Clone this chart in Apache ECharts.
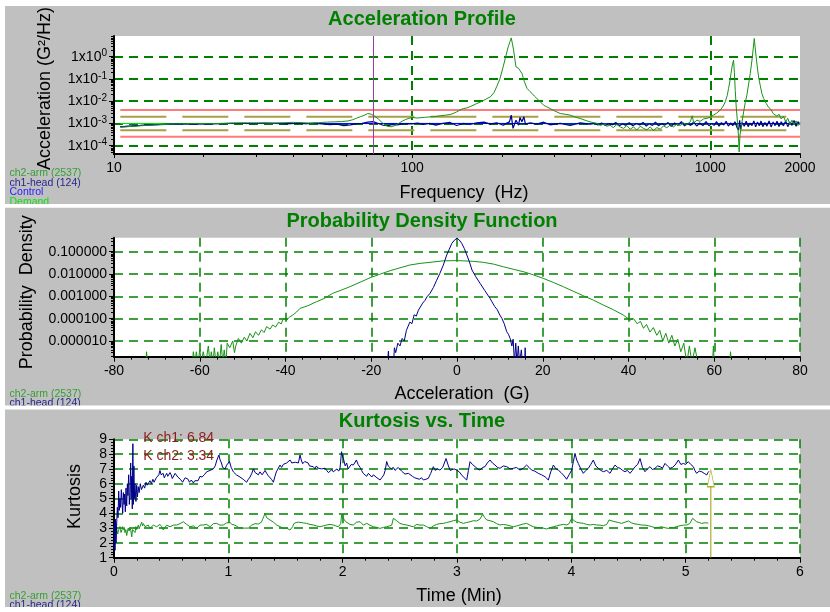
<!DOCTYPE html>
<html><head><meta charset="utf-8">
<script src="https://cdn.jsdelivr.net/npm/echarts@6/dist/echarts.min.js"></script>
<style>html,body{margin:0;padding:0;background:#fff}#c{width:830px;height:612px}</style>
</head><body><div id="c"></div>
<script>
// ================= DATA =================
const titles = ['Acceleration Profile', 'Probability Density Function', 'Kurtosis vs. Time'];
const psdLegendNames = ['ch2-arm (2537)', 'ch1-head (124)', 'Control', 'Demand'];
const pdfLegendNames = ['ch2-arm (2537)', 'ch1-head (124)'];
const kurtLegendNames = ['ch2-arm (2537)', 'ch1-head (124)'];
const kurtReadouts = ['K ch1: 6.84', 'K ch2: 3.34'];

// Acceleration profile (frequency Hz, G^2/Hz)
const psdXRange = [10, 2000];
const psdYRange = [4.24e-5, 8.51];
const psdCursorFreq = 74;
const psdDemand = [[10.5, 1e-3], [2000, 1e-3]];
const psdAbortHi = [[10.5, 4.0e-3], [2000, 4.0e-3]];
const psdAbortLo = [[10.5, 2.5e-4], [2000, 2.5e-4]];
const psdAlarmHi = [[10.5, 2.0e-3], [2000, 2.0e-3]];
const psdAlarmLo = [[10.5, 5.0e-4], [2000, 5.0e-4]];
const psdControl = [[10.5,7.2e-4],[13,8.6e-4],[16,9.4e-4],[25,1.0e-3],[50,9.8e-4],[100,1.0e-3],[200,1.0e-3],[500,9.6e-4],[1000,9.8e-4],[2000,1.0e-3]];
const psdCh2 = [
[10.5,6.8e-4],[11,7.1e-4],[12,7.7e-4],[13,8.3e-4],[14,8.8e-4],[15.5,9.3e-4],[17,9.7e-4],[19,1.0e-3],[21,9.8e-4],[23,1.01e-3],[25,1.04e-3],[28,1.07e-3],[31,1.05e-3],[34,1.03e-3],[37,1.08e-3],[40,1.12e-3],[43,1.08e-3],[46,1.02e-3],[49,1.1e-3],[52,1.15e-3],[55,1.18e-3],[58,1.22e-3],[61,1.3e-3],[63,1.45e-3],[65,1.7e-3],[67,2.0e-3],[69,2.3e-3],[71,2.8e-3],[73,2.6e-3],[75,2.1e-3],[77,1.6e-3],[79,1.15e-3],[81,8.5e-4],[83,7.4e-4],[85,7.1e-4],[87,7.8e-4],[89,9.0e-4],[91,1.1e-3],[93,1.3e-3],[95,1.5e-3],[97,1.65e-3],
[100,1.86e-3],[104,1.75e-3],[107,1.82e-3],[111,1.9e-3],[115,1.98e-3],[119,2.05e-3],[124,2.2e-3],[129,2.35e-3],[134,2.5e-3],[138,2.9e-3],[141,3.3e-3],[145,4.1e-3],[148.6,4.7e-3],[152,4.9e-3],[156,5.6e-3],[160,6.5e-3],[164.8,7.9e-3],[169,9.0e-3],[174,1.1e-2],[178,1.3e-2],[183,1.57e-2],[188,2.4e-2],[192,4.4e-2],[197,0.1],[202,0.35],[206,1.0],[210,2.77],[213,4.8],[215,7.0],[217,3.8],[219,1.97],[221,0.8],[223,0.35],[225,0.32],[227.5,0.30],[230,0.24],[233.5,0.177],[238,0.075],[243,0.037],[248,0.028],[252.5,0.0223],[257,0.017],[262,0.0133],[269,0.0095],[276,6.6e-3],[283,5.6e-3],[290,4.7e-3],[300,3.7e-3],[314,2.8e-3],[326,2.6e-3],[339,2.36e-3],[352,1.95e-3],[366,1.68e-3],[380,1.4e-3],[395,1.18e-3],
[417,1.0e-3],[428,8.0e-4],[439,9.5e-4],[450,7.5e-4],[461,8.4e-4],[473,6.5e-4],[486,9.0e-4],[499,7.0e-4],[512,6.0e-4],[525,8.0e-4],[539,5.5e-4],[553,7.0e-4],[567,5.0e-4],[582,7.5e-4],[597,6.0e-4],[613,5.2e-4],[629,7.0e-4],[645,4.8e-4],[662,6.5e-4],[680,5.5e-4],[697,7.8e-4],[715,6.4e-4],[734,8.5e-4],[753,7.0e-4],[773,9.4e-4],[793,8.0e-4],[813,1.05e-3],[835,9.0e-4],[857,1.2e-3],[870,2.2e-3],[880,1.05e-3],[902,1.4e-3],[925,1.25e-3],[950,1.6e-3],[975,1.7e-3],[1000,1.9e-3],
[1026,2.4e-3],[1050,2.9e-3],[1081,4.0e-3],[1105,6.0e-3],[1123,9.4e-3],[1140,0.018],[1152,0.037],[1164,0.08],[1174,0.18],[1186,0.42],[1197,0.70],[1205,0.2],[1213,0.03],[1222,0.0056],[1235,0.001],[1243,0.0003],[1250,5.3e-5],[1258,3.0e-4],[1270,7e-4],[1294,3.3e-3],[1310,8.5e-3],[1327,0.0187],[1345,0.06],[1362,0.177],[1380,0.7],[1393,2.2],[1405,6.6],[1415,2.5],[1425,1.0],[1442,0.25],[1456,0.1],[1471,0.052],[1490,0.022],[1510,0.0133],[1540,0.008],[1570,0.0052],[1600,0.0042],[1625,0.0028],[1650,0.0033],[1675,0.0021],[1700,0.0026],[1730,0.0016],[1760,0.0021],[1790,0.0012],[1820,0.0017],[1850,0.0009],[1880,0.0014],[1910,0.00085],[1940,0.0013],[1970,0.0008],[2000,0.0011]
];
const psdCh1 = [
[10.5,7.0e-4],[11.5,7.6e-4],[12.5,8.3e-4],[14,8.9e-4],[16,9.4e-4],[18,9.7e-4],[20,9.5e-4],[23,9.8e-4],[26,1.02e-3],[29,9.9e-4],[32,1.03e-3],[35,1.0e-3],[38,9.6e-4],[41,1.02e-3],[44,9.9e-4],[47,1.03e-3],[50,9.5e-4],[53,8.8e-4],[56,9.4e-4],[59,8.0e-4],[62,8.6e-4],[65,9.5e-4],[68,1.02e-3],[71,1.15e-3],[74,1.2e-3],[77,1.0e-3],[80,8.3e-4],[83,8.0e-4],[86,9.0e-4],[89,8.6e-4],[92,9.4e-4],[96,9.8e-4],
[100,9.5e-4],[104.5,1.05e-3],[109,9.0e-4],[115,1.0e-3],[120,8.4e-4],[127,1.0e-3],[134,1.11e-3],[141,8.1e-4],[148.6,1.0e-3],[156,9.0e-4],[165,1.07e-3],[174,1.14e-3],[183,9.3e-4],[192,1.07e-3],[202,8.4e-4],[212,1.18e-3],[215,2.36e-3],[218,6.0e-4],[221,5.0e-4],[223,1.4e-3],[227.5,8.4e-4],[230,1.86e-3],[233.5,1.18e-3],[237,2.0e-3],[240,9.3e-4],[249,1.07e-3],[262,9.3e-4],[276,1.14e-3],[290,8.7e-4],[314,1.0e-3],[339,8.1e-4],[366,1.07e-3],[395,9.3e-4],
[410,1.02e-3],[420,8.6e-4],[432,1.05e-3],[445,8.2e-4],[458,9.8e-4],[470,8.8e-4],[482,1.1e-3],[495,8.0e-4],[508,9.6e-4],[520,8.4e-4],[535,1.08e-3],[550,7.8e-4],[565,1.0e-3],[580,8.6e-4],[595,1.12e-3],[610,7.6e-4],[625,9.8e-4],[640,8.2e-4],[655,1.15e-3],[670,7.9e-4],[688,1.0e-3],[705,8.4e-4],[722,1.1e-3],[740,7.5e-4],[760,1.05e-3],[780,8.3e-4],[800,1.2e-3],[820,7.8e-4],[840,1.0e-3],[860,8.1e-4],[880,1.18e-3],[900,7.7e-4],[922,1.05e-3],[945,8.0e-4],[968,1.22e-3],[990,7.9e-4],[1010,1.0e-3],[1030,8.2e-4],[1050,1.2e-3],[1070,7.6e-4],[1090,1.08e-3],[1110,8.5e-4],[1130,1.25e-3],[1150,7.6e-4],[1170,1.05e-3],[1190,8.0e-4],[1210,1.2e-3],[1230,6.5e-4],[1245,5.0e-4],[1255,1.4e-3],[1265,5.5e-4],[1280,1.1e-3],[1300,7.5e-4],[1320,1.25e-3],[1340,7.2e-4],[1360,1.05e-3],[1380,8.0e-4],[1400,1.3e-3],[1420,7.0e-4],[1440,1.15e-3],[1460,7.8e-4],[1480,1.28e-3],[1500,7.2e-4],[1525,1.1e-3],[1550,7.6e-4],[1575,1.3e-3],[1600,7.0e-4],[1625,1.15e-3],[1650,8.0e-4],[1675,1.25e-3],[1700,7.3e-4],[1730,1.2e-3],[1760,7.8e-4],[1790,1.3e-3],[1820,7.2e-4],[1850,1.15e-3],[1880,8.2e-4],[1910,1.35e-3],[1940,7.5e-4],[1970,1.2e-3],[2000,9.0e-4]
];

// Probability density (G, density)
const pdfXRange = [-80, 80];
const pdfYRange = [1.98e-6, 0.425];
const pdfCh2 = [
[-72.6,1e-6],[-72.4,3.3e-6],[-72.2,1e-6],[-61.7,1e-6],[-61.5,3.3e-6],[-61.1,1e-6],[-60.8,3.3e-6],[-60.4,1e-6],[-60.0,4e-6],[-59.6,1e-6],[-59.2,3.3e-6],[-58.6,1e-6],[-58.0,6e-6],[-57.6,1e-6],[-57.3,3.3e-6],[-56.9,1e-6],[-56.6,5e-6],[-56.2,1e-6],[-55.8,3.3e-6],[-55.4,1e-6],[-55.0,7e-6],[-54.6,1e-6],[-54.3,4e-6],[-53.9,1e-6],[-53.6,8e-6],[-53.0,5e-6],[-52.3,1e-5],[-51.9,3e-6],[-51.6,6e-6],[-51.0,1.3e-5],[-50.3,8e-6],[-49.6,1.5e-5],[-49.0,1.0e-5],[-48.3,2.2e-5],[-47.6,1.4e-5],[-47.0,2.6e-5],[-46.3,1.8e-5],[-45.6,3.2e-5],[-45.0,2.4e-5],[-44.4,4.4e-5],[-43.6,3.4e-5],[-43.0,5.2e-5],[-42.3,4.2e-5],[-41.6,7e-5],[-41.0,5.8e-5],[-40.5,1.03e-4],[-39.8,8.6e-5],[-39.0,1.2e-4],[-38.2,1.5e-4],[-37.4,2.0e-4],[-36.6,2.9e-4],[-35.5,3.4e-4],[-34.5,4.0e-4],[-33.6,4.9e-4],[-32.8,5.7e-4],[-31,8.0e-4],[-29,1.36e-3],[-27,1.9e-3],[-25,2.7e-3],[-22.6,4.3e-3],[-20.3,6.8e-3],[-18,9.8e-3],[-15.6,0.0141],[-13.3,0.019],[-11,0.0254],[-8.6,0.030],[-6.3,0.0335],[-3.2,0.039],[0,0.040],[1.5,0.039],[3.8,0.037],[6.1,0.0335],[8.5,0.028],[10.8,0.0212],[13.1,0.0165],[15.5,0.0127],[17.8,0.0092],[20.1,0.0064],[22.5,0.0042],[24.8,0.0027],[27.1,0.0017],[29.5,0.00106],[31.8,6.8e-4],[34.1,4.1e-4],[36.5,2.5e-4],[38.8,1.45e-4],[40.4,8.7e-5],[41.2,1.0e-4],[42,6.0e-5],[42.8,7.5e-5],[43.5,3.7e-5],[44.2,5.5e-5],[45,2.5e-5],[45.8,4.0e-5],[46.6,1.8e-5],[47.3,3.0e-5],[48,1.0e-5],[48.7,2.2e-5],[49.4,8e-6],[50.1,1.8e-5],[50.8,6e-6],[51.5,1.2e-5],[52.2,3.3e-6],[52.9,8e-6],[53.6,1e-6],[54.2,6e-6],[54.8,1e-6],[55.5,5e-6],[56.2,1e-6],[59.6,1e-6],[59.8,6e-6],[60.0,1e-6],[63.6,1e-6],[63.8,3.3e-6],[64.0,1e-6]
];
const pdfCh1 = [
[-16.2,1e-6],[-16.0,3.5e-6],[-15.8,1e-6],[-14.8,1e-6],[-14.6,5e-6],[-14.3,3e-6],[-13.8,8e-6],[-13.3,6e-6],[-12.8,1.3e-5],[-12.3,1.0e-5],[-11.8,3.0e-5],[-11.4,2.5e-5],[-11,7.0e-5],[-10.5,6e-5],[-10,1.5e-4],[-9.5,1.3e-4],[-9,2.4e-4],[-8.6,2.9e-4],[-8,5.0e-4],[-7.5,6.5e-4],[-7,9.5e-4],[-6.3,1.36e-3],[-5.5,2.5e-3],[-4.8,5.0e-3],[-4,0.0107],[-3.2,0.025],[-2.4,0.071],[-1.8,0.13],[-1.2,0.238],[-0.6,0.33],[0,0.40],[0.5,0.34],[1.1,0.238],[1.7,0.14],[2.3,0.071],[2.9,0.035],[3.5,0.0151],[4.4,0.0075],[5.4,0.0038],[6.5,0.0018],[7.7,8.1e-4],[8.8,3.5e-4],[9.4,2.5e-4],[10,1.45e-4],[10.5,1.0e-4],[11,6e-5],[11.6,2.6e-5],[12,2.0e-5],[12.4,1.3e-5],[12.8,6e-6],[13.1,1.2e-5],[13.4,1e-6],[13.7,8e-6],[14.0,1e-6],[14.3,6e-6],[14.6,1e-6],[15.0,4e-6],[15.3,1e-6],[15.8,1e-6],[15.9,5e-6],[16.0,1e-6]
];

// Kurtosis vs time (min, kurtosis)
const kurtXRange = [0, 6];
const kurtYRange = [1, 9];
const kurtArrowLine = [[5.22, 1], [5.22, 5.85]];
const kurtArrowHead = [[5.22, 6.37]];
const kurtCh1 = [
[0.000,1.6],[0.004,3.4],[0.009,1.5],[0.013,3.6],[0.018,2.0],[0.023,3.2],[0.029,4.4],[0.035,3.7],[0.041,5.5],[0.047,4.2],[0.052,5.0],[0.058,4.4],[0.064,5.6],[0.070,4.8],[0.076,4.0],[0.082,5.4],[0.088,4.6],[0.093,5.3],[0.099,4.1],[0.105,5.7],[0.111,4.5],[0.117,6.0],[0.122,5.2],[0.128,6.6],[0.134,4.6],[0.140,5.4],[0.146,7.4],[0.150,5.0],[0.155,6.5],[0.160,4.3],[0.165,8.7],[0.169,4.6],[0.174,7.2],[0.178,5.0],[0.183,6.0],[0.188,5.3],[0.192,4.8],[0.198,5.9],[0.205,5.1],[0.212,5.8],[0.220,5.4],[0.230,6.0],[0.240,5.6],[0.257,5.9],[0.268,5.7],[0.280,6.1],[0.290,5.9],[0.300,6.0],[0.315,6.2],[0.327,6.0],[0.340,6.3],[0.350,6.1],[0.360,6.2],[0.370,6.4],[0.380,6.5],[0.392,6.6],[0.402,6.9],[0.412,6.6],[0.420,6.5],[0.430,6.7],[0.440,6.4],[0.450,6.55],[0.461,6.7],[0.470,6.5],[0.480,6.5],[0.490,6.75],[0.500,6.6],[0.510,6.35],[0.520,6.4],[0.535,6.7],[0.548,6.6],[0.558,6.45],[0.570,6.5],[0.580,6.3],[0.590,6.3],[0.600,6.1],[0.610,6.2],[0.622,6.4],[0.636,6.5],[0.648,6.3],[0.660,6.1],[0.676,6.25],[0.694,6.05],[0.707,6.2],[0.720,6.3],[0.735,6.2],[0.752,6.5],[0.770,6.45],[0.790,6.6],[0.800,6.5],[0.810,6.8],[0.825,6.7],[0.840,6.9],[0.855,6.8],[0.869,7.0],[0.885,7.2],[0.900,7.6],[0.910,7.5],[0.918,7.94],[0.928,7.6],[0.940,7.4],[0.950,7.1],[0.960,7.2],[0.972,7.0],[0.985,7.25],[0.998,7.15],[1.010,7.5],[1.025,7.1],[1.044,6.8],[1.058,6.9],[1.070,6.6],[1.085,6.7],[1.102,6.45],[1.115,6.5],[1.130,6.3],[1.145,6.4],[1.160,6.1],[1.175,6.3],[1.190,6.45],[1.205,6.7],[1.219,7.0],[1.235,6.75],[1.250,6.85],[1.263,6.6],[1.277,6.8],[1.295,6.6],[1.310,6.7],[1.322,6.9],[1.335,6.7],[1.348,6.55],[1.360,6.5],[1.377,6.3],[1.394,6.1],[1.408,6.5],[1.420,6.8],[1.436,6.9],[1.452,7.26],[1.466,7.1],[1.480,7.3],[1.495,7.2],[1.510,7.4],[1.525,7.3],[1.540,7.6],[1.555,7.4],[1.569,7.3],[1.585,7.45],[1.600,7.5],[1.613,7.4],[1.627,7.94],[1.638,7.6],[1.650,7.35],[1.668,7.5],[1.685,7.6],[1.698,7.4],[1.710,7.2],[1.727,7.3],[1.743,7.15],[1.758,7.0],[1.770,7.2],[1.786,7.05],[1.802,7.15],[1.816,7.0],[1.830,6.9],[1.845,7.05],[1.860,6.9],[1.875,6.75],[1.890,6.8],[1.905,6.95],[1.918,6.8],[1.935,6.9],[1.950,7.0],[1.965,6.85],[1.977,7.04],[1.990,8.16],[2.001,7.8],[2.010,7.6],[2.022,7.2],[2.035,7.4],[2.048,7.0],[2.060,7.1],[2.075,7.3],[2.093,7.26],[2.105,7.4],[2.120,7.6],[2.135,7.3],[2.152,7.1],[2.165,6.9],[2.180,6.7],[2.195,6.6],[2.210,6.5],[2.225,6.7],[2.240,6.6],[2.255,6.45],[2.268,6.6],[2.285,6.5],[2.300,6.4],[2.314,6.5],[2.327,6.25],[2.342,6.4],[2.360,6.6],[2.372,6.9],[2.385,7.5],[2.398,7.2],[2.410,7.3],[2.425,7.0],[2.443,7.1],[2.458,6.9],[2.470,6.95],[2.486,7.1],[2.501,7.0],[2.515,6.85],[2.530,6.8],[2.545,6.65],[2.560,6.6],[2.575,6.7],[2.589,6.59],[2.610,6.5],[2.630,6.4],[2.647,6.47],[2.670,6.3],[2.690,6.4],[2.706,6.25],[2.728,6.3],[2.749,6.36],[2.770,6.7],[2.793,7.15],[2.810,6.9],[2.830,7.0],[2.851,6.92],[2.875,7.1],[2.904,7.7],[2.925,7.2],[2.940,6.9],[2.953,6.81],[2.975,7.0],[2.997,6.92],[3.020,6.8],[3.041,6.59],[3.063,6.4],[3.085,6.25],[3.100,6.9],[3.114,7.49],[3.135,7.3],[3.158,7.15],[3.180,7.0],[3.201,6.92],[3.223,7.1],[3.245,7.15],[3.265,7.4],[3.289,7.6],[3.310,7.4],[3.332,7.26],[3.355,7.1],[3.376,7.04],[3.405,7.2],[3.435,7.15],[3.465,7.0],[3.493,7.04],[3.520,7.1],[3.551,6.92],[3.580,7.05],[3.609,7.26],[3.630,7.1],[3.653,6.92],[3.680,6.85],[3.711,6.70],[3.740,6.6],[3.770,6.47],[3.785,6.6],[3.799,6.25],[3.820,6.8],[3.843,7.26],[3.865,7.0],[3.886,6.92],[3.910,6.75],[3.930,6.59],[3.945,6.45],[3.959,6.3],[3.980,6.6],[4.003,6.92],[4.018,7.5],[4.032,8.05],[4.047,7.6],[4.061,7.37],[4.083,7.0],[4.105,6.70],[4.127,6.9],[4.149,7.04],[4.170,7.3],[4.192,7.6],[4.214,7.2],[4.236,7.04],[4.258,6.9],[4.280,6.81],[4.310,6.9],[4.338,6.70],[4.360,7.0],[4.382,7.26],[4.404,7.1],[4.426,7.04],[4.448,6.9],[4.469,6.81],[4.490,6.9],[4.513,6.70],[4.535,6.9],[4.557,7.15],[4.580,7.3],[4.601,7.7],[4.622,7.1],[4.644,6.81],[4.666,7.0],[4.688,7.15],[4.710,6.95],[4.732,7.04],[4.754,7.2],[4.776,7.15],[4.798,7.05],[4.819,7.37],[4.841,7.2],[4.863,7.04],[4.885,7.1],[4.907,7.26],[4.920,7.4],[4.936,7.6],[4.958,7.3],[4.980,7.37],[5.000,7.3],[5.023,7.49],[5.045,7.3],[5.067,7.15],[5.080,6.9],[5.096,6.70],[5.118,6.85],[5.140,6.81],[5.162,6.7],[5.184,6.59],[5.195,6.75],[5.204,6.84]
];
const kurtCh2 = [
[0.000,3.1],[0.005,2.6],[0.009,2.3],[0.013,3.0],[0.017,3.3],[0.023,3.2],[0.027,2.8],[0.032,2.6],[0.038,2.5],[0.042,2.9],[0.047,3.0],[0.052,3.1],[0.057,2.9],[0.061,2.7],[0.067,2.6],[0.071,2.9],[0.076,3.1],[0.082,2.9],[0.089,3.05],[0.096,2.7],[0.103,2.9],[0.111,2.5],[0.118,2.8],[0.125,3.0],[0.132,2.8],[0.140,3.0],[0.147,2.85],[0.155,2.4],[0.162,2.9],[0.169,3.0],[0.176,2.8],[0.184,2.7],[0.191,3.1],[0.198,2.9],[0.206,3.0],[0.213,3.2],[0.220,2.95],[0.227,3.1],[0.235,3.05],[0.242,3.4],[0.250,3.15],[0.257,3.3],[0.271,3.1],[0.286,3.1],[0.300,3.2],[0.315,2.98],[0.330,3.1],[0.344,3.2],[0.358,3.15],[0.373,3.09],[0.388,3.15],[0.402,3.25],[0.417,3.1],[0.431,2.87],[0.446,3.05],[0.461,3.2],[0.475,3.15],[0.490,3.09],[0.505,3.15],[0.519,3.2],[0.533,3.1],[0.548,3.21],[0.562,3.15],[0.577,3.3],[0.592,3.35],[0.606,3.43],[0.621,3.3],[0.636,3.25],[0.650,3.15],[0.665,3.09],[0.680,3.1],[0.694,3.15],[0.709,3.05],[0.723,2.98],[0.737,3.1],[0.752,3.2],[0.767,3.15],[0.781,3.21],[0.796,3.3],[0.810,3.25],[0.825,3.15],[0.840,3.09],[0.854,3.2],[0.869,3.3],[0.883,3.25],[0.898,3.32],[0.913,3.25],[0.927,3.2],[0.942,3.3],[0.956,3.21],[0.971,3.3],[0.985,3.35],[1.000,3.3],[1.015,3.39],[1.030,3.25],[1.044,3.16],[1.058,3.2],[1.073,3.1],[1.088,3.05],[1.102,2.98],[1.117,3.0],[1.131,3.05],[1.146,3.0],[1.160,2.94],[1.175,3.0],[1.190,3.1],[1.204,3.2],[1.219,3.32],[1.233,3.3],[1.248,3.35],[1.263,3.28],[1.277,3.32],[1.290,3.4],[1.300,3.6],[1.311,3.8],[1.321,4.0],[1.328,3.85],[1.335,3.7],[1.350,3.6],[1.364,3.55],[1.379,3.45],[1.394,3.4],[1.408,3.3],[1.423,3.21],[1.437,3.15],[1.452,3.1],[1.466,3.05],[1.481,2.98],[1.496,3.05],[1.510,3.0],[1.525,2.95],[1.539,2.87],[1.552,2.95],[1.563,3.1],[1.573,3.3],[1.583,3.43],[1.593,3.38],[1.603,3.35],[1.615,3.4],[1.627,3.32],[1.656,3.35],[1.685,3.32],[1.714,3.25],[1.743,3.21],[1.772,3.15],[1.802,3.09],[1.831,3.15],[1.860,3.21],[1.889,3.25],[1.918,3.21],[1.940,3.15],[1.962,3.09],[1.975,3.15],[1.983,3.3],[1.991,3.88],[2.000,3.75],[2.012,3.6],[2.024,3.45],[2.035,3.32],[2.064,3.25],[2.093,3.21],[2.108,3.3],[2.122,3.4],[2.137,3.38],[2.152,3.43],[2.166,3.3],[2.181,3.2],[2.195,3.28],[2.210,3.32],[2.239,3.2],[2.268,3.09],[2.297,3.05],[2.327,2.98],[2.356,3.05],[2.385,3.09],[2.410,3.15],[2.429,3.2],[2.443,3.66],[2.458,3.55],[2.472,3.5],[2.487,3.4],[2.501,3.32],[2.530,3.25],[2.560,3.21],[2.589,3.15],[2.618,3.09],[2.647,3.25],[2.676,3.2],[2.706,3.21],[2.735,3.1],[2.764,2.98],[2.793,3.15],[2.822,3.25],[2.851,3.3],[2.881,3.32],[2.910,3.38],[2.939,3.43],[2.968,3.5],[2.997,3.55],[3.026,3.4],[3.055,3.32],[3.085,3.38],[3.114,3.43],[3.143,3.5],[3.172,3.48],[3.200,3.6],[3.225,3.93],[3.243,3.7],[3.260,3.55],[3.289,3.5],[3.318,3.43],[3.347,3.3],[3.376,3.21],[3.405,3.25],[3.435,3.21],[3.464,3.15],[3.493,3.09],[3.522,3.15],[3.551,3.21],[3.580,3.28],[3.609,3.32],[3.638,3.2],[3.668,3.09],[3.697,3.05],[3.726,3.03],[3.755,3.0],[3.784,2.94],[3.813,3.03],[3.843,3.09],[3.872,3.15],[3.901,3.21],[3.930,3.25],[3.959,3.21],[3.980,3.3],[4.003,3.66],[4.025,3.5],[4.047,3.39],[4.076,3.35],[4.105,3.32],[4.134,3.25],[4.163,3.21],[4.192,3.25],[4.222,3.21],[4.251,3.2],[4.280,3.16],[4.310,3.25],[4.330,3.55],[4.356,3.48],[4.382,3.43],[4.411,3.38],[4.440,3.32],[4.470,3.4],[4.499,3.48],[4.528,3.35],[4.557,3.28],[4.586,3.25],[4.615,3.21],[4.645,3.2],[4.674,3.16],[4.703,3.1],[4.732,3.03],[4.761,3.05],[4.790,3.09],[4.820,3.02],[4.849,2.98],[4.870,3.05],[4.892,3.03],[4.921,3.1],[4.951,3.16],[4.980,3.2],[5.009,3.21],[5.035,3.3],[5.061,3.66],[5.078,3.55],[5.096,3.43],[5.118,3.38],[5.140,3.32],[5.170,3.36],[5.198,3.34]
];

// ================= CHART =================
const FONT = "'Liberation Sans', Arial, Helvetica, sans-serif";
const GRIDGREEN = '#008000';
const C_CH2 = '#179217', C_CH1 = '#000088', C_CTRL = '#0000ff', C_DEM = '#00e000';
const legendColors = ['#35a035', '#26268c', '#2424ff', '#10e010'];

function logMinor(lo, hi) {
  const out = [];
  for (let e = Math.floor(Math.log10(lo)); e <= Math.ceil(Math.log10(hi)); e++)
    for (let m = 2; m <= 9; m++) { const v = m * Math.pow(10, e); if (v >= lo && v <= hi) out.push(Math.log10(v)); }
  return out;
}
const lbl = { color: '#000', fontSize: 14, fontFamily: FONT };
const axLine = { show: true, onZero: false, lineStyle: { color: '#000', width: 2 } };
const nameStyle = (pad) => ({ color: '#000', fontSize: 18, fontFamily: FONT, padding: pad });
const dashed = (w) => ({ color: GRIDGREEN, type: [9, 6], width: w });
function overlayAxis(grid, pos, range, ticks) {
  return { gridIndex: grid, type: 'value', position: pos, min: Math.log10(range[0]), max: Math.log10(range[1]),
    axisLine: { show: false, onZero: false }, axisLabel: { show: false }, splitLine: { show: false },
    axisTick: { show: true, length: 3, customValues: ticks, lineStyle: { color: '#000', width: 1 } } };
}

const chart = echarts.init(document.getElementById('c'));
const lineS = (name, data, color, xi, yi, extra) => Object.assign({
  name, type: 'line', data, xAxisIndex: xi, yAxisIndex: yi, showSymbol: false, symbol: 'none',
  lineStyle: { color, width: 1 }, itemStyle: { color }, silent: true, animation: false
}, extra || {});

const legendTexts = [];
psdLegendNames.forEach((t, i) => legendTexts.push({ t, c: legendColors[i], y: 173.3 + i * 9.5 }));
pdfLegendNames.forEach((t, i) => legendTexts.push({ t, c: legendColors[i], y: 394 + i * 9.4 }));
kurtLegendNames.forEach((t, i) => legendTexts.push({ t, c: legendColors[i], y: 595.7 + i * 9.4 }));

const graphics = legendTexts.map(o => ({
  type: 'text', x: 9.5, y: o.y, silent: true,
  style: { text: o.t, fill: o.c, fontSize: 10.5, fontFamily: FONT, textVerticalAlign: 'middle', verticalAlign: 'middle' }
}));
kurtReadouts.forEach((t, i) => graphics.push({
  type: 'text', x: 143.3, y: 438.3 + i * 17.4, silent: true, z: 100,
  style: { text: t, fill: '#8e1c1c', fontSize: 14, fontFamily: FONT, textVerticalAlign: 'middle', verticalAlign: 'middle' }
}));
// page white margins / panel separators
[[0,0,830,6],[0,0,5,612],[0,204,830,3.8],[0,405.5,830,4],[0,607,830,5]].forEach(r => graphics.push({
  type: 'rect', shape: { x: r[0], y: r[1], width: r[2], height: r[3] }, style: { fill: '#fff' }, silent: true, z: 50
}));

const option = {
  animation: false,
  backgroundColor: '#c0c0c0',
  textStyle: { fontFamily: FONT },
  title: titles.map((t, i) => ({
    text: t, left: 422, top: [9, 211, 411.7][i], textAlign: 'center', padding: 0,
    textStyle: { color: GRIDGREEN, fontSize: 20, fontWeight: 'bold', fontFamily: FONT }
  })),
  grid: [
    { left: 114, top: 36, width: 686, height: 118, show: true, backgroundColor: '#fff', borderWidth: 0 },
    { left: 114, top: 237.7, width: 686, height: 119, show: true, backgroundColor: '#fff', borderWidth: 0 },
    { left: 114, top: 439.3, width: 686, height: 118.4, show: true, backgroundColor: '#fff', borderWidth: 0 }
  ],
  xAxis: [
    { gridIndex: 0, type: 'log', logBase: 10, min: psdXRange[0], max: psdXRange[1], position: 'bottom',
      axisLine: axLine, axisTick: { show: true, length: 4, lineStyle: { color: '#000' } },
      axisLabel: Object.assign({}, lbl, { margin: 7, formatter: v => String(Math.round(v)) }),
      splitLine: { show: true, showMinLine: false, showMaxLine: false, lineStyle: dashed(2) },
      name: 'Frequency  (Hz)', nameLocation: 'middle', nameGap: 30, nameTextStyle: nameStyle([0, 0, 0, 14]) },
    overlayAxis(0, 'bottom', psdXRange, logMinor(psdXRange[0], psdXRange[1])),
    { gridIndex: 1, type: 'value', min: pdfXRange[0], max: pdfXRange[1], interval: 20, position: 'bottom',
      axisLine: axLine, axisTick: { show: true, length: 5, lineStyle: { color: '#000' } },
      minorTick: { show: true, splitNumber: 5, length: 3, lineStyle: { color: '#000' } },
      axisLabel: Object.assign({}, lbl, { margin: 7 }),
      splitLine: { show: true, showMinLine: false, lineStyle: dashed(1.5) },
      name: 'Acceleration  (G)', nameLocation: 'middle', nameGap: 28, nameTextStyle: nameStyle([0, 0, 0, 10]) },
    { gridIndex: 2, type: 'value', min: kurtXRange[0], max: kurtXRange[1], interval: 1, position: 'bottom',
      axisLine: axLine, axisTick: { show: true, length: 5, lineStyle: { color: '#000' } },
      minorTick: { show: true, splitNumber: 5, length: 3, lineStyle: { color: '#000' } },
      axisLabel: Object.assign({}, lbl, { margin: 7 }),
      splitLine: { show: true, showMinLine: false, lineStyle: dashed(1.5) },
      name: 'Time (Min)', nameLocation: 'middle', nameGap: 29, nameTextStyle: nameStyle([0, 0, 0, 4]) }
  ],
  yAxis: [
    { gridIndex: 0, type: 'log', logBase: 10, min: psdYRange[0], max: psdYRange[1], position: 'left',
      axisLine: axLine, axisTick: { show: true, length: 5, lineStyle: { color: '#000' } },
      axisLabel: { margin: 7, showMinLabel: false, showMaxLabel: false,
        formatter: v => '{b|1x10}{s|' + Math.round(Math.log10(v)) + '}',
        rich: { b: { fontSize: 14, fontFamily: FONT, color: '#000' }, s: { fontSize: 10, fontFamily: FONT, color: '#000', verticalAlign: 'top', padding: [0, 0, 6, 0] } } },
      splitLine: { show: true, showMinLine: false, showMaxLine: false, lineStyle: dashed(2) },
      name: 'Acceleration (G²/Hz)', nameLocation: 'middle', nameGap: 60, nameTextStyle: nameStyle([0, 0, 0, 13]) },
    overlayAxis(0, 'left', psdYRange, logMinor(psdYRange[0], psdYRange[1])),
    { gridIndex: 1, type: 'log', logBase: 10, min: pdfYRange[0], max: pdfYRange[1], position: 'left',
      axisLine: axLine, axisTick: { show: true, length: 5, lineStyle: { color: '#000' } },
      axisLabel: Object.assign({}, lbl, { margin: 7, showMinLabel: false, showMaxLabel: false, formatter: v => v.toFixed(6) }),
      splitLine: { show: true, showMinLine: false, showMaxLine: false, lineStyle: dashed(1.5) },
      name: 'Probability  Density', nameLocation: 'middle', nameGap: 78, nameTextStyle: nameStyle([0, 0, 0, 10]) },
    overlayAxis(1, 'left', pdfYRange, logMinor(pdfYRange[0], pdfYRange[1])),
    { gridIndex: 2, type: 'value', min: kurtYRange[0], max: kurtYRange[1], interval: 1, position: 'left',
      axisLine: axLine, axisTick: { show: true, length: 5, lineStyle: { color: '#000' } },
      minorTick: { show: true, splitNumber: 5, length: 3, lineStyle: { color: '#000' } },
      axisLabel: Object.assign({}, lbl, { margin: 7 }),
      splitLine: { show: true, showMinLine: false, lineStyle: dashed(1.5) },
      name: 'Kurtosis', nameLocation: 'middle', nameGap: 30, nameTextStyle: nameStyle([0, 0, 0, 4]) }
  ],
  series: [
    lineS('abort+', psdAbortHi, '#ff7a7a', 0, 0, { lineStyle: { color: '#ff7a7a', width: 2 } }),
    lineS('abort-', psdAbortLo, '#ff7a7a', 0, 0, { lineStyle: { color: '#ff7a7a', width: 2 } }),
    lineS('alarm+', psdAlarmHi, '#a8a048', 0, 0, { lineStyle: { color: '#a8a048', width: 2, type: [46, 16] } }),
    lineS('alarm-', psdAlarmLo, '#a8a048', 0, 0, { lineStyle: { color: '#a8a048', width: 2, type: [46, 16] } }),
    lineS(psdLegendNames[3], psdDemand, C_DEM, 0, 0),
    lineS(psdLegendNames[2], psdControl, C_CTRL, 0, 0),
    lineS(psdLegendNames[1], psdCh1, C_CH1, 0, 0, { lineStyle: { color: C_CH1, width: 1.2 } }),
    lineS(psdLegendNames[0], psdCh2, C_CH2, 0, 0, {
      markLine: { silent: true, symbol: ['none', 'none'], label: { show: false },
        lineStyle: { color: '#9a3aa8', width: 1, type: 'solid' }, data: [{ xAxis: psdCursorFreq }] } }),
    lineS(pdfLegendNames[0], pdfCh2, C_CH2, 2, 2),
    lineS(pdfLegendNames[1], pdfCh1, C_CH1, 2, 2),
    lineS(kurtLegendNames[0], kurtCh2, C_CH2, 3, 4),
    lineS(kurtLegendNames[1], kurtCh1, C_CH1, 3, 4),
    lineS('now', kurtArrowLine, '#a09a00', 3, 4),
    { name: 'nowHead', type: 'scatter', xAxisIndex: 3, yAxisIndex: 4, data: kurtArrowHead, symbol: 'triangle',
      symbolSize: [7, 17], itemStyle: { color: '#fff', borderColor: '#a09a00', borderWidth: 1 }, silent: true, z: 5 }
  ],
  graphic: graphics
};
chart.setOption(option);
</script></body></html>
